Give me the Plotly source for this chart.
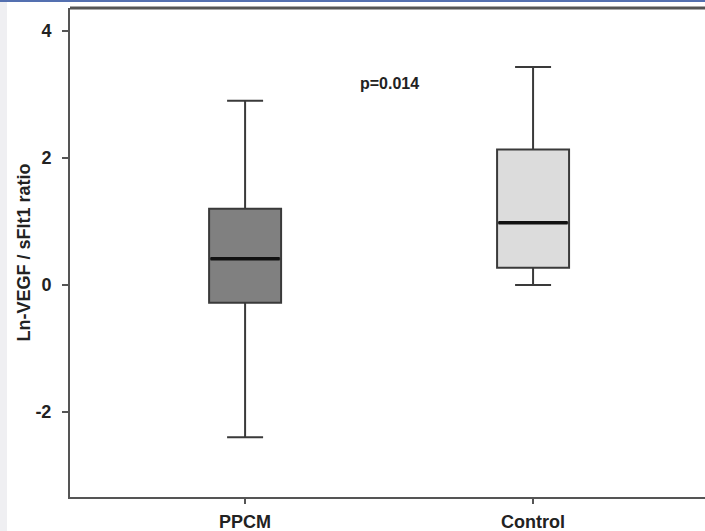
import plotly.graph_objects as go

groups = ["PPCM", "Control"]
lower_whisker = [-2.40, 0.0]
q1_vals = [-0.28, 0.27]
medians = [0.41, 0.98]
q3_vals = [1.20, 2.13]
upper_whisker = [2.90, 3.43]
fill_colors = ["#808080", "#dcdcdc"]
y_ticks = [-2, 0, 2, 4]
p_text = "p=0.014"

BOX_W = 0.25
fig = go.Figure()
for i, g in enumerate(groups):
    fig.add_trace(go.Box(
        x=[i], q1=[q1_vals[i]], median=[medians[i]], q3=[q3_vals[i]],
        lowerfence=[lower_whisker[i]], upperfence=[upper_whisker[i]],
        fillcolor=fill_colors[i], line=dict(color="#3a3a3a", width=2),
        width=BOX_W, whiskerwidth=0.5, boxpoints=False, showlegend=False,
        hoverinfo="skip",
    ))
    fig.add_trace(go.Scatter(
        x=[i - BOX_W / 2 + 0.005, i + BOX_W / 2 - 0.005], y=[medians[i], medians[i]],
        mode="lines", line=dict(color="#111111", width=3.5),
        showlegend=False, hoverinfo="skip",
    ))

fig.add_annotation(x=0.503, y=3.17, text="<b>%s</b>" % p_text, showarrow=False,
                   font=dict(size=16, color="#222222", family="Liberation Sans, Arial"))

fig.add_shape(type="line", xref="paper", yref="paper", x0=0, x1=1, y0=1, y1=1,
              line=dict(color="#555555", width=3))

fig.update_layout(
    width=705, height=531,
    margin=dict(l=70, r=0, t=8, b=34),
    paper_bgcolor="white", plot_bgcolor="white",
    font=dict(family="Liberation Sans, Arial", color="#222222"),
    xaxis=dict(
        tickmode="array", tickvals=[0, 1], ticktext=["<b>%s</b>" % g for g in groups],
        range=[-0.608, 1.597], showgrid=False, zeroline=False,
        showline=True, linecolor="#555555", linewidth=2,
        ticks="outside", ticklen=5, tickwidth=2, tickcolor="#555555",
        tickfont=dict(size=18), ticklabelstandoff=2,
    ),
    yaxis=dict(
        tickmode="array", tickvals=y_ticks, ticktext=["<b>%d</b>" % v for v in y_ticks],
        range=[-3.34, 4.36], showgrid=False, zeroline=False,
        showline=True, linecolor="#555555", linewidth=2,
        ticks="outside", ticklen=6, tickwidth=2, tickcolor="#555555",
        tickfont=dict(size=18), ticklabelstandoff=7,
        title=dict(text="<b>Ln-VEGF / sFlt1 ratio</b>", font=dict(size=18), standoff=0),
    ),
)

# blue strip at top and light grey strip at left edge of the page
fig.add_shape(type="rect", xref="paper", yref="paper", x0=-70/635, x1=1, y0=1 + 6/489, y1=1 + 8/489,
              line_width=0, fillcolor="#5470b0", layer="above")
fig.add_shape(type="rect", xref="paper", yref="paper", x0=-70/635, x1=-63/635, y0=-34/489, y1=1 + 6/489,
              line_width=0, fillcolor="#efeff2", layer="below")

fig.write_html("out.html", config={"displayModeBar": False},
               post_script="document.body.style.margin='0';document.body.style.overflow='hidden';")
